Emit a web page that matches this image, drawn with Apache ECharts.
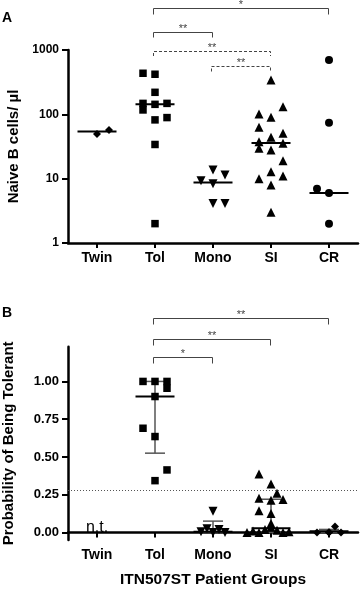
<!DOCTYPE html>
<html><head><meta charset="utf-8">
<script src="https://cdn.jsdelivr.net/npm/echarts@6/dist/echarts.min.js"></script>
<style>html,body{margin:0;padding:0;background:#fff}#c{width:360px;height:591px}</style>
</head><body><div id="c"></div>
<script>
const categories = ['Twin', 'Tol', 'Mono', 'SI', 'CR'];
// Panel A: naive B cells / µl
const twinA = [49.5, 57];
const tolA = [435, 420, 220, 148, 117, 143, 148, 82, 89, 34, 2];
const monoA = [13.6, 11.4, 9.3, 8.3, 4.1, 4.1];
const siA = [342, 131, 101, 90, 63, 51, 44, 37.6, 35.5, 29.6, 27.9, 19, 12.8, 11, 10, 8, 3.0];
const crA = [700, 74, 7, 6, 2];
const mediansA = [54, 143, 8.7, 36, 6];
const yTicksA = [1, 10, 100, 1000];
// Panel B: probability of being tolerant
const tolB = [1.0, 1.0, 1.0, 0.955, 0.90, 0.69, 0.635, 0.414, 0.343];
const monoB = [0.14, 0.025, 0.02, 0.005, 0.0, 0.0];
const siB = [0.387, 0.321, 0.259, 0.226, 0.214, 0.219, 0.143, 0.126, 0.06, 0.035, 0.02, 0.015, 0.01, 0.005, 0.0, 0.0, 0.0];
const crB = [0.0, 0.002, 0.04, 0.0, 0.0];
const mediansB = [null, 0.90, 0.004, 0.027, 0.008];
const iqrLowB = [null, 0.525, 0, 0, 0];
const iqrHighB = [null, 1.0, 0.075, 0.22, 0.02];
const threshold = 0.285;
const yTicksB = [0, 0.25, 0.5, 0.75, 1.0];
// horizontal jitter columns (display only)
const twinColA = [0, 2];
const tolColA = [-2, 0, 0, -2, -2, 0, 2, 0, 2, 0, 0];
const monoColA = [0, 2, -2, 0, 0, 2];
const siColA = [0, 2, -2, 0, -2, 2, 0, -2, 2, -2, 0, 2, 0, 2, -2, 0, 0];
const crColA = [0, 0, -2, 0, 0];
const tolColB = [-2, 0, 2, 2, 0, -2, 0, 2, 0];
const monoColB = [0, -1, 1, -2, 0, 2];
const siColB = [-2, 0, 1, -2, 0, 2, -2, 0, 0, 0, -1, 1, -3, 3, -2, 2, -4];
const crColB = [-2, 0, 1, 2, 0];

const FONT = 'Liberation Sans, Arial, sans-serif';
const JIT = 6;
function pts(vals, cols, ci) {
  return vals.map((v, i) => ({ value: [ci, v], symbolOffset: [cols[i] * JIT, 0] }));
}
function scatter(gi, data, symbol, size, rotate) {
  return { type: 'scatter', xAxisIndex: gi, yAxisIndex: gi, data: data, symbol: symbol,
    symbolSize: size, symbolRotate: rotate || 0, itemStyle: { color: '#000', opacity: 1 },
    z: 5, silent: true, animation: false };
}
function medianSeries(gi, meds) {
  const d = [];
  meds.forEach((m, i) => { if (m !== null) d.push([i, m]); });
  return { type: 'custom', xAxisIndex: gi, yAxisIndex: gi, data: d, z: 6, silent: true, animation: false,
    renderItem: function (p, api) {
      const c = api.coord([api.value(0), api.value(1)]);
      return { type: 'line', shape: { x1: c[0] - 19.5, y1: c[1], x2: c[0] + 19.5, y2: c[1] },
        style: { stroke: '#000', lineWidth: 2 } };
    } };
}
function errSeries(gi, lo, hi) {
  const d = [];
  lo.forEach((l, i) => { if (l !== null) d.push([i, l, hi[i]]); });
  return { type: 'custom', xAxisIndex: gi, yAxisIndex: gi, data: d, z: 4, silent: true, animation: false,
    renderItem: function (p, api) {
      const a = api.coord([api.value(0), api.value(1)]);
      const b = api.coord([api.value(0), api.value(2)]);
      const st = { stroke: '#555', lineWidth: 1.5 };
      return { type: 'group', children: [
        { type: 'line', shape: { x1: a[0], y1: a[1], x2: b[0], y2: b[1] }, style: st },
        { type: 'line', shape: { x1: a[0] - 10, y1: a[1], x2: a[0] + 10, y2: a[1] }, style: st },
        { type: 'line', shape: { x1: b[0] - 10, y1: b[1], x2: b[0] + 10, y2: b[1] }, style: st }
      ] };
    } };
}
const axisLine = { show: true, lineStyle: { color: '#000', width: 2.5 } };
const xAxisCommon = (gi) => ({
  type: 'category', gridIndex: gi, data: categories, boundaryGap: true,
  axisLine: axisLine,
  axisTick: { show: true, alignWithLabel: true, length: 5, lineStyle: { color: '#000', width: 2 } },
  axisLabel: { color: '#000', fontFamily: FONT, fontWeight: 'bold', fontSize: 14, margin: 8 },
  splitLine: { show: false }
});

const chart = echarts.init(document.getElementById('c'), null, { renderer: 'canvas' });
chart.setOption({
  backgroundColor: '#fff',
  animation: false,
  grid: [
    { left: 68, right: 2, top: 50, height: 193, outerBoundsMode: 'none', containLabel: false },
    { left: 68, right: 2, top: 346.7, height: 193.3, outerBoundsMode: 'none', containLabel: false }
  ],
  xAxis: [
    xAxisCommon(0),
    Object.assign(xAxisCommon(1), { name: 'ITN507ST Patient Groups', nameLocation: 'middle', nameGap: 32,
      nameTextStyle: { color: '#000', fontFamily: FONT, fontWeight: 'bold', fontSize: 15.5 } })
  ],
  yAxis: [
    { type: 'log', logBase: 10, gridIndex: 0, min: 1, max: 1000,
      axisLine: axisLine,
      axisTick: { show: true, length: 6, lineStyle: { color: '#000', width: 2 } },
      minorTick: { show: false },
      axisLabel: { color: '#000', fontFamily: FONT, fontWeight: 'bold', fontSize: 12, margin: 9,
        customValues: yTicksA, formatter: v => String(Math.round(v)) },
      splitLine: { show: false },
      name: 'Naive B cells/ µl', nameLocation: 'middle', nameGap: 42,
      nameTextStyle: { color: '#000', fontFamily: FONT, fontWeight: 'bold', fontSize: 15 } },
    { type: 'value', gridIndex: 1, min: -0.05, max: 1.23,
      axisLine: axisLine,
      axisTick: { show: true, length: 6, lineStyle: { color: '#000', width: 2 }, customValues: yTicksB },
      axisLabel: { color: '#000', fontFamily: FONT, fontWeight: 'bold', fontSize: 13, margin: 9,
        customValues: yTicksB, formatter: v => v.toFixed(2) },
      splitLine: { show: false },
      name: 'Probability of Being Tolerant', nameLocation: 'middle', nameGap: 52,
      nameTextStyle: { color: '#000', fontFamily: FONT, fontWeight: 'bold', fontSize: 15 } }
  ],
  series: [
    medianSeries(0, mediansA),
    scatter(0, pts(twinA, twinColA, 0), 'diamond', [8, 8]),
    scatter(0, pts(tolA, tolColA, 1), 'rect', 7.5),
    scatter(0, pts(monoA, monoColA, 2), 'triangle', 9, 180),
    scatter(0, pts(siA, siColA, 3), 'triangle', 9),
    scatter(0, pts(crA, crColA, 4), 'circle', 8),
    errSeries(1, iqrLowB, iqrHighB),
    medianSeries(1, mediansB),
    Object.assign(scatter(1, pts(tolB, tolColB, 1), 'rect', 7.5), {
      markLine: { silent: true, symbol: 'none', label: { show: false }, animation: false,
        lineStyle: { color: '#555', width: 1, type: [1, 2] }, data: [{ yAxis: threshold }] } }),
    scatter(1, pts(monoB, monoColB, 2), 'triangle', 9, 180),
    scatter(1, pts(siB, siColB, 3), 'triangle', 9),
    scatter(1, pts(crB, crColB, 4), 'diamond', [8, 8])
  ]
});

// significance brackets: [from, to, label, dashed, yLine, yLeg]
const bracketsA = [
  ['Tol', 'CR', '*', false, 8.5, 14.5],
  ['Tol', 'Mono', '**', false, 32.5, 37.5],
  ['Tol', 'SI', '**', true, 51.5, 56],
  ['Mono', 'SI', '**', true, 66.5, 71.5]
];
const bracketsB = [
  ['Tol', 'CR', '**', false, 318.5, 324.5],
  ['Tol', 'SI', '**', false, 339.5, 345.5],
  ['Tol', 'Mono', '*', false, 357.5, 363.5]
];
const gfx = [];
function addBrackets(list, gi) {
  list.forEach(b => {
    const x1 = Math.round(chart.convertToPixel({ xAxisIndex: gi }, b[0])) - 1.5;
    const x2 = Math.round(chart.convertToPixel({ xAxisIndex: gi }, b[1])) - 0.5;
    gfx.push({ type: 'polyline', silent: true,
      shape: { points: [[x1, b[5]], [x1, b[4]], [x2, b[4]], [x2, b[5]]] },
      style: { stroke: '#444', lineWidth: 1, fill: null, lineDash: b[3] ? [3, 2] : null } });
    gfx.push({ type: 'text', silent: true, x: (x1 + x2) / 2, y: b[4] + 2,
      style: { text: b[2], fill: '#444', font: '11px ' + FONT, align: 'center', verticalAlign: 'bottom' } });
  });
}
addBrackets(bracketsA, 0);
addBrackets(bracketsB, 1);
const twinX = chart.convertToPixel({ xAxisIndex: 1 }, 'Twin');
gfx.push({ type: 'text', silent: true, x: twinX, y: 528,
  style: { text: 'n.t.', fill: '#000', font: '16px ' + FONT, align: 'center', verticalAlign: 'middle' } });
gfx.push({ type: 'text', silent: true, x: 2, y: 18,
  style: { text: 'A', fill: '#000', font: 'bold 14px ' + FONT, align: 'left', verticalAlign: 'middle' } });
gfx.push({ type: 'text', silent: true, x: 2, y: 313,
  style: { text: 'B', fill: '#000', font: 'bold 14px ' + FONT, align: 'left', verticalAlign: 'middle' } });
chart.setOption({ graphic: gfx });
</script>
</body></html>
